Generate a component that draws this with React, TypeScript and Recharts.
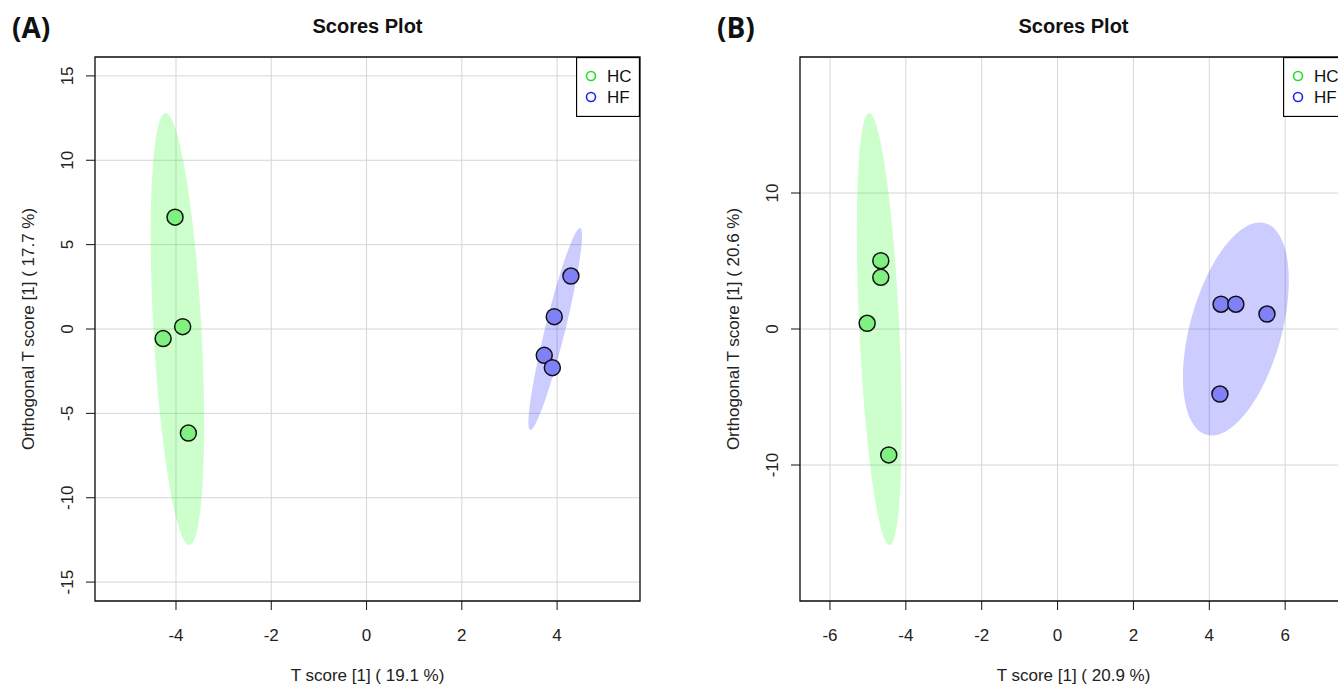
import React from 'react'
import { ScatterChart, Scatter, XAxis, YAxis, CartesianGrid, ReferenceArea, Legend } from 'recharts'

const FONT = '"Liberation Sans", Arial, sans-serif'

const GROUPS = ['HC', 'HF']
const GROUP_LINE = ['#22dd22', '#2222ee'] // legend symbols
const GROUP_FILL = ['#80f080', '#8080f8'] // points
const ELLIPSE_FILL = ['#00ff00', '#0000ff']

// panel A scores (T score, orthogonal T score)
const aHcT = [-4.02, -3.86, -4.27, -3.74]
const aHcO = [6.63, 0.14, -0.57, -6.17]
const aHfT = [4.29, 3.94, 3.73, 3.9]
const aHfO = [3.14, 0.73, -1.56, -2.29]

// panel A ellipses: [center, major axis end, minor axis end]
const aHcEllT = [-3.97, -4.22, -3.467]
const aHcEllO = [0, 12.8, 0.078]
const aHfEllT = [3.96, 4.485, 4.164]
const aHfEllO = [0, 5.99, -0.142]

// panel B scores
const bHcT = [-4.66, -4.66, -5.02, -4.45]
const bHcO = [5.02, 3.8, 0.42, -9.26]
const bHfT = [4.31, 4.7, 5.52, 4.28]
const bHfO = [1.82, 1.82, 1.1, -4.78]

const bHcEllT = [-4.7, -4.97, -4.173]
const bHcEllO = [0, 15.88, 0.069]
const bHfEllT = [4.7, 5.473, 5.863]
const bHfEllO = [0, 7.78, -0.897]

const aXTicks = [-4, -2, 0, 2, 4]
const aYTicks = [-15, -10, -5, 0, 5, 10, 15]
const bXTicks = [-6, -4, -2, 0, 2, 4, 6]
const bYTicks = [-10, 0, 10]

const aXDomain = [-5.7, 5.74]
const aYDomain = [-16.12, 16.12]
const bXDomain = [-6.79, 7.63]
const bYDomain = [-20, 20]

const toPoints = (t: number[], o: number[]) => t.map((v, i) => ({ t: v, o: o[i] }))

const XTick = (props: any) => {
  const { x, y, payload } = props
  return (
    <text x={x} y={y} dy="0.71em" textAnchor="middle" fontSize={17} fill="#222" fontFamily={FONT}>
      {payload.value}
    </text>
  )
}

const YTick = (props: any) => {
  const { x, y, payload } = props
  return (
    <text x={x} y={y} transform={`rotate(-90 ${x} ${y})`} textAnchor="middle" fontSize={17} fill="#222" fontFamily={FONT}>
      {payload.value}
    </text>
  )
}

// draws the ellipse from its center and two semi-axis ends, already in pixels
const ellipseLine = (fill: string) => (props: any) => {
  const pts = props.points || []
  if (pts.length < 3) return <g />
  const [c, a, b] = pts
  const m = `matrix(${a.x - c.x} ${a.y - c.y} ${b.x - c.x} ${b.y - c.y} ${c.x} ${c.y})`
  return <ellipse cx={0} cy={0} rx={1} ry={1} transform={m} fill={fill} fillOpacity={0.2} stroke="none" />
}

const dot = (fill: string) => (props: any) => (
  <circle cx={props.cx} cy={props.cy} r={8} fill={fill} stroke="#111" strokeWidth={1.5} />
)

const LegendBox = () => (
  <svg width={64} height={60} style={{ display: 'block' }}>
    <rect x={0.5} y={0.5} width={63} height={59} fill="#fff" stroke="#000" strokeWidth={1.3} />
    {GROUPS.map((g, i) => (
      <g key={g}>
        <circle cx={15} cy={19 + i * 21} r={4.5} fill="none" stroke={GROUP_LINE[i]} strokeWidth={1.6} />
        <text x={31} y={19 + i * 21} dominantBaseline="central" fontSize={17} fill="#111" fontFamily={FONT}>
          {g}
        </text>
      </g>
    ))}
  </svg>
)

interface PanelProps {
  tag: string
  xLabel: string
  yLabel: string
  xDomain: number[]
  yDomain: number[]
  xTicks: number[]
  yTicks: number[]
  groups: { t: number[]; o: number[] }[]
  ellipses: { t: number[]; o: number[] }[]
  plotWidth: number
}

function ScoresPanel({ tag, xLabel, yLabel, xDomain, yDomain, xTicks, yTicks, groups, ellipses, plotWidth }: PanelProps) {
  const left = 95
  const top = 57
  const plotHeight = 544
  const width = left + plotWidth + 30
  const cx = left + plotWidth / 2
  return (
    <ScatterChart width={width} height={684} margin={{ top, right: 30, bottom: 0, left: 0 }}>
      <CartesianGrid stroke="#d6d6d6" strokeWidth={1} />
      <XAxis
        type="number"
        dataKey="t"
        domain={xDomain}
        ticks={xTicks}
        allowDataOverflow
        height={83}
        axisLine={false}
        tickSize={9}
        tickMargin={19}
        tickLine={{ stroke: '#111' }}
        tick={<XTick />}
        interval={0}
      />
      <YAxis
        type="number"
        dataKey="o"
        domain={yDomain}
        ticks={yTicks}
        allowDataOverflow
        width={95}
        axisLine={false}
        tickSize={9}
        tickMargin={13}
        tickLine={{ stroke: '#111' }}
        tick={<YTick />}
        interval={0}
      />
      {ellipses.map((e, i) => (
        <Scatter
          key={`ell-${i}`}
          data={toPoints(e.t, e.o)}
          shape={() => <g />}
          line={ellipseLine(ELLIPSE_FILL[i])}
          lineType="joint"
          legendType="none"
          isAnimationActive={false}
        />
      ))}
      {groups.map((g, i) => (
        <Scatter
          key={`pts-${i}`}
          name={GROUPS[i]}
          data={toPoints(g.t, g.o)}
          shape={dot(GROUP_FILL[i])}
          isAnimationActive={false}
        />
      ))}
      <ReferenceArea
        x1={xDomain[0]}
        x2={xDomain[1]}
        y1={yDomain[0]}
        y2={yDomain[1]}
        fill="none"
        stroke="#111"
        strokeWidth={1.3}
        ifOverflow="visible"
      />
      <Legend
        layout="vertical"
        align="center"
        verticalAlign="middle"
        wrapperStyle={{ position: 'absolute', top, left: left + plotWidth - 64, width: 64, height: 60 }}
        content={() => <LegendBox />}
      />
      <text x={cx} y={26} textAnchor="middle" dominantBaseline="central" fontSize={20} fontWeight="bold" fill="#111" fontFamily={FONT}>
        Scores Plot
      </text>
      <text x={12} y={27} dominantBaseline="central" fontSize={28} fontWeight="bold" fill="#111" fontFamily='"Open Sans", sans-serif'>
        {tag}
      </text>
      <text x={cx} y={675} textAnchor="middle" dominantBaseline="central" fontSize={17} fill="#222" fontFamily={FONT}>
        {xLabel}
      </text>
      <text
        x={28}
        y={top + plotHeight / 2}
        transform={`rotate(-90 28 ${top + plotHeight / 2})`}
        textAnchor="middle"
        dominantBaseline="central"
        fontSize={17}
        fill="#222"
        fontFamily={FONT}
      >
        {yLabel}
      </text>
    </ScatterChart>
  )
}

export default function App() {
  return (
    <div style={{ position: 'absolute', left: 0, top: 0, width: 1338, height: 684, overflow: 'hidden', background: '#fff' }}>
      <div style={{ position: 'absolute', left: 0, top: 0 }}>
        <ScoresPanel
          tag="(A)"
          xLabel="T score [1] ( 19.1 %)"
          yLabel="Orthogonal T score [1] ( 17.7 %)"
          xDomain={aXDomain}
          yDomain={aYDomain}
          xTicks={aXTicks}
          yTicks={aYTicks}
          groups={[{ t: aHcT, o: aHcO }, { t: aHfT, o: aHfO }]}
          ellipses={[{ t: aHcEllT, o: aHcEllO }, { t: aHfEllT, o: aHfEllO }]}
          plotWidth={545}
        />
      </div>
      <div style={{ position: 'absolute', left: 705, top: 0 }}>
        <ScoresPanel
          tag="(B)"
          xLabel="T score [1] ( 20.9 %)"
          yLabel="Orthogonal T score [1] ( 20.6 %)"
          xDomain={bXDomain}
          yDomain={bYDomain}
          xTicks={bXTicks}
          yTicks={bYTicks}
          groups={[{ t: bHcT, o: bHcO }, { t: bHfT, o: bHfO }]}
          ellipses={[{ t: bHcEllT, o: bHcEllO }, { t: bHfEllT, o: bHfEllO }]}
          plotWidth={547}
        />
      </div>
    </div>
  )
}
